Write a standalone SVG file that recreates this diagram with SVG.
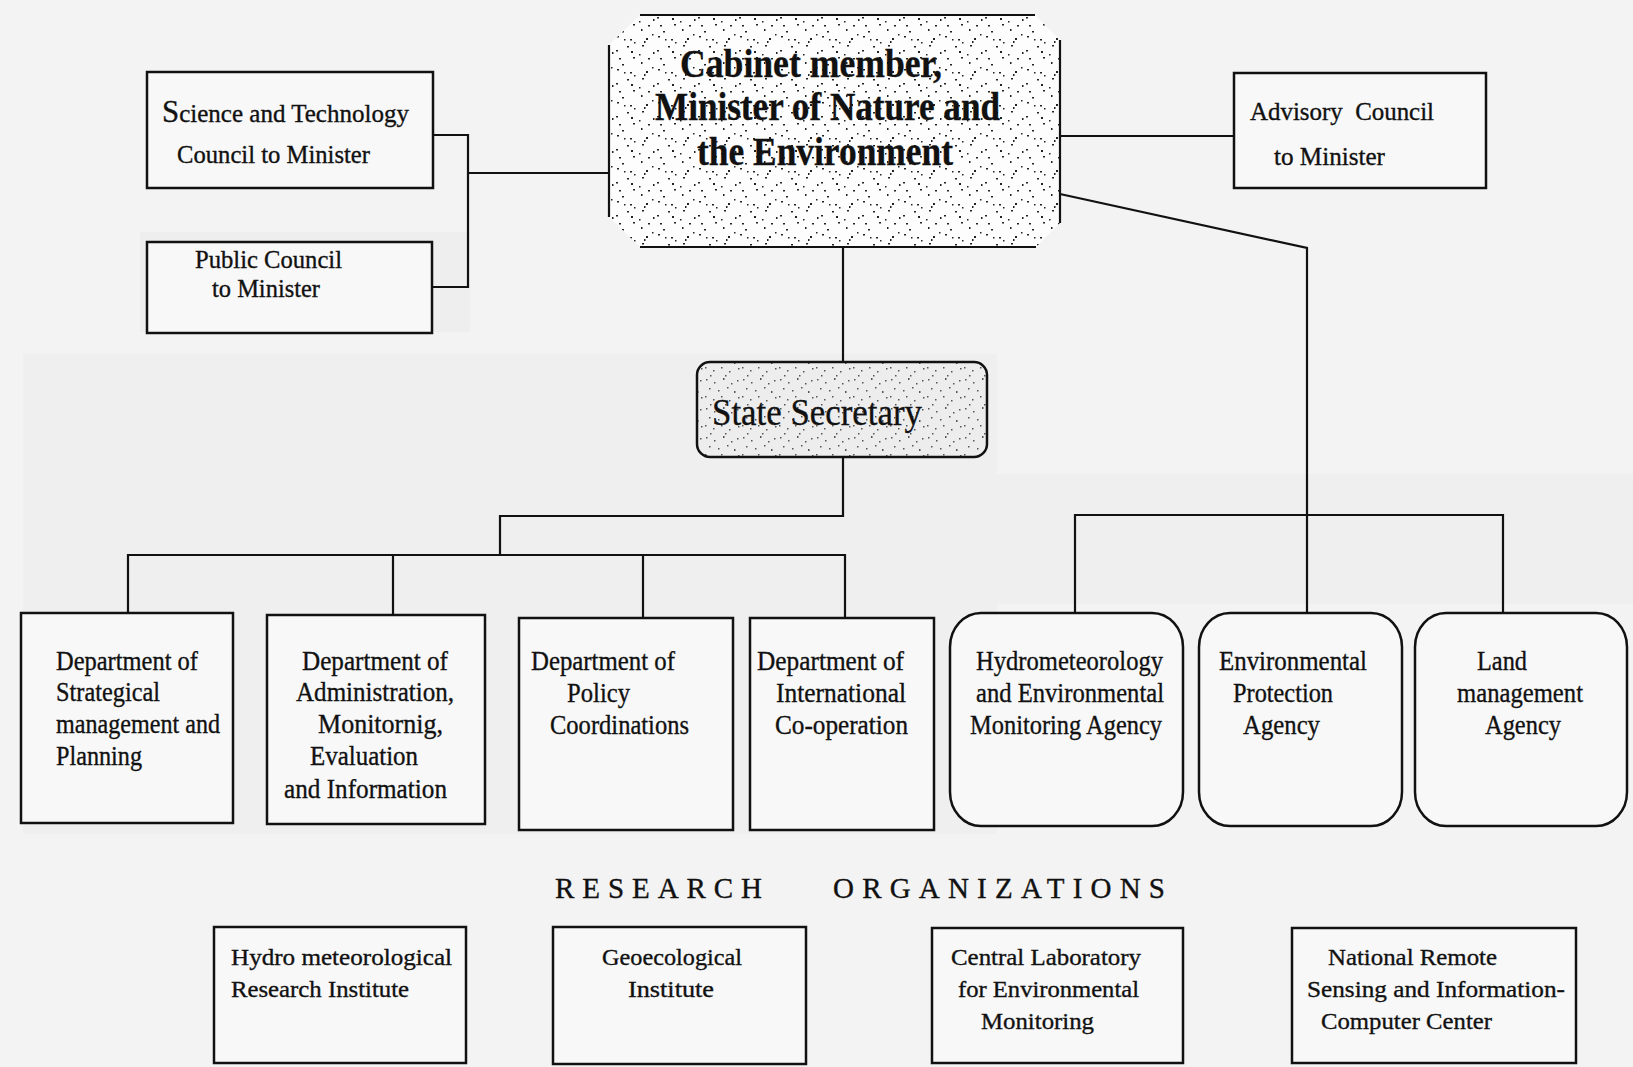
<svg xmlns="http://www.w3.org/2000/svg" width="1633" height="1067" viewBox="0 0 1633 1067">
<style>
.bx{fill:#f8f8f8;stroke:#111;stroke-width:2.5}
.ln{fill:none;stroke:#111;stroke-width:2.2}
.t{font-family:"Liberation Serif","Times New Roman",serif;fill:#111;stroke:#111;stroke-width:0.35}
.d{font-size:28px}
.s{font-size:24px}
.c{font-size:26px}
.big{font-size:40px;font-weight:bold}
.hd{font-size:29px}
</style>
<defs>
<pattern id="stip" width="41" height="33" patternUnits="userSpaceOnUse">
<rect width="41" height="33" fill="#fdfdfd"/>
<g fill="#222">
<rect x="2" y="3" width="2" height="1.5"/><rect x="15" y="6" width="2" height="1.5"/>
<rect x="31" y="5" width="2" height="2"/><rect x="37" y="1" width="1.5" height="1.5"/>
<rect x="12" y="13" width="2" height="1.5"/><rect x="19" y="9" width="1.5" height="1.5"/>
<rect x="27" y="12" width="2" height="1.5"/><rect x="1" y="17" width="2" height="1.5"/>
<rect x="16" y="18" width="2" height="2"/><rect x="24" y="21" width="1.5" height="1.5"/>
<rect x="38" y="19" width="1.5" height="2"/><rect x="4" y="25" width="2" height="1.5"/>
<rect x="18" y="24" width="2" height="1.5"/><rect x="26" y="29" width="1.5" height="2"/>
<rect x="33" y="25" width="2" height="1.5"/><rect x="7" y="31" width="2" height="1.5"/>
<rect x="29" y="8" width="1.5" height="2"/><rect x="9" y="6" width="1.5" height="1.5"/>
</g>
</pattern>
<pattern id="stip2" width="37" height="29" patternUnits="userSpaceOnUse">
<rect width="37" height="29" fill="#ededed"/>
<g fill="#555">
<rect x="3" y="2" width="1.5" height="1.5"/><rect x="11" y="5" width="1.5" height="1.5"/><rect x="20" y="1" width="1.5" height="2"/>
<rect x="28" y="6" width="1.5" height="1.5"/><rect x="34" y="3" width="1.5" height="1.5"/><rect x="6" y="11" width="1.5" height="1.5"/>
<rect x="15" y="13" width="1.5" height="1.5"/><rect x="24" y="10" width="1.5" height="1.5"/><rect x="31" y="14" width="1.5" height="2"/>
<rect x="2" y="19" width="1.5" height="1.5"/><rect x="10" y="22" width="1.5" height="1.5"/><rect x="18" y="19" width="1.5" height="1.5"/>
<rect x="26" y="23" width="1.5" height="1.5"/><rect x="35" y="20" width="1.5" height="1.5"/><rect x="7" y="27" width="1.5" height="1.5"/>
<rect x="22" y="27" width="1.5" height="1.5"/>
</g>
</pattern>
</defs>
<rect width="1633" height="1067" fill="#f3f3f3"/>
<rect x="23" y="354" width="974" height="480" fill="#efefef"/>
<rect x="997" y="474" width="636" height="130" fill="#efefef"/>
<rect x="140" y="232" width="330" height="100" fill="#eeeeee"/>

<g id="connectors">
<path class="ln" d="M433,135 H468 V287 H432"/>
<path class="ln" d="M468,173 H609"/>
<path class="ln" d="M1060,136 H1234"/>
<path class="ln" d="M1060,194 L1307,248 V613"/>
<path class="ln" d="M1075,613 V515 H1503 V613"/>
<path class="ln" d="M843,247 V362"/>
<path class="ln" d="M843,457 V516 H500 V555"/>
<path class="ln" d="M128,613 V555 H845 V618"/>
<path class="ln" d="M393,555 V615"/>
<path class="ln" d="M643,555 V618"/>
</g>

<g id="cabinet">
<path d="M640,15 H1035 L1060,40 V223 L1036,247 H640 L609,217 V45 Z" fill="url(#stip)"/>
<path class="ln" d="M640,15 H1035 M640,247 H1036 M609,45 V217 M1060,40 V223" stroke-width="3"/>
<text class="t big" x="680" y="77" textLength="262" lengthAdjust="spacingAndGlyphs">Cabinet member,</text>
<text class="t big" x="655" y="120" textLength="345" lengthAdjust="spacingAndGlyphs">Minister of Nature and</text>
<text class="t big" x="697" y="165" textLength="256" lengthAdjust="spacingAndGlyphs">the Environment</text>
</g>

<g id="science-council">
<rect class="bx" x="147" y="72" width="286" height="116" fill="#f9f9f9"/>
<text class="t c" x="162" y="122" textLength="247" lengthAdjust="spacingAndGlyphs"><tspan font-size="32">S</tspan>cience and Technology</text>
<text class="t c" x="177" y="163" textLength="193" lengthAdjust="spacingAndGlyphs">Council to Minister</text>
</g>

<g id="public-council">
<rect class="bx" x="147" y="242" width="285" height="91"/>
<text class="t c" x="195" y="268" textLength="147" lengthAdjust="spacingAndGlyphs">Public Council</text>
<text class="t c" x="212" y="297" textLength="108" lengthAdjust="spacingAndGlyphs">to Minister</text>
</g>

<g id="advisory-council">
<rect class="bx" x="1234" y="73" width="252" height="115"/>
<text class="t c" x="1250" y="120" textLength="184" lengthAdjust="spacingAndGlyphs" xml:space="preserve">Advisory  Council</text>
<text class="t c" x="1274" y="165" textLength="111" lengthAdjust="spacingAndGlyphs">to Minister</text>
</g>

<g id="state-secretary">
<rect x="697" y="362" width="290" height="95" rx="13" fill="url(#stip2)" stroke="#111" stroke-width="2.5"/>
<text class="t" font-size="38" x="712" y="425" textLength="210" lengthAdjust="spacingAndGlyphs">State Secretary</text>
</g>

<g id="dept-strategic">
<rect class="bx" x="21" y="613" width="212" height="210"/>
<text class="t d" x="56" y="670" textLength="142" lengthAdjust="spacingAndGlyphs">Department of</text>
<text class="t d" x="56" y="701" textLength="104" lengthAdjust="spacingAndGlyphs">Strategical</text>
<text class="t d" x="56" y="733" textLength="164" lengthAdjust="spacingAndGlyphs">management and</text>
<text class="t d" x="56" y="765" textLength="86" lengthAdjust="spacingAndGlyphs">Planning</text>
</g>

<g id="dept-administration">
<rect class="bx" x="267" y="615" width="218" height="209"/>
<text class="t d" x="302" y="670" textLength="146" lengthAdjust="spacingAndGlyphs">Department of</text>
<text class="t d" x="296" y="701" textLength="158" lengthAdjust="spacingAndGlyphs">Administration,</text>
<text class="t d" x="318" y="733" textLength="125" lengthAdjust="spacingAndGlyphs">Monitornig,</text>
<text class="t d" x="310" y="765" textLength="108" lengthAdjust="spacingAndGlyphs">Evaluation</text>
<text class="t d" x="284" y="798" textLength="163" lengthAdjust="spacingAndGlyphs">and Information</text>
</g>

<g id="dept-policy">
<rect class="bx" x="519" y="618" width="214" height="212"/>
<text class="t d" x="531" y="670" textLength="144" lengthAdjust="spacingAndGlyphs">Department of</text>
<text class="t d" x="567" y="702" textLength="63" lengthAdjust="spacingAndGlyphs">Policy</text>
<text class="t d" x="550" y="734" textLength="139" lengthAdjust="spacingAndGlyphs">Coordinations</text>
</g>

<g id="dept-international">
<rect class="bx" x="750" y="618" width="184" height="212"/>
<text class="t d" x="757" y="670" textLength="147" lengthAdjust="spacingAndGlyphs">Department of</text>
<text class="t d" x="776" y="702" textLength="130" lengthAdjust="spacingAndGlyphs">International</text>
<text class="t d" x="775" y="734" textLength="133" lengthAdjust="spacingAndGlyphs">Co-operation</text>
</g>

<g id="agency-hydromet">
<rect class="bx" x="950" y="613" width="233" height="213" rx="31" ry="34"/>
<text class="t d" x="976" y="670" textLength="187" lengthAdjust="spacingAndGlyphs">Hydrometeorology</text>
<text class="t d" x="976" y="702" textLength="188" lengthAdjust="spacingAndGlyphs">and Environmental</text>
<text class="t d" x="970" y="734" textLength="192" lengthAdjust="spacingAndGlyphs">Monitoring Agency</text>
</g>

<g id="agency-envprotection">
<rect class="bx" x="1199" y="613" width="203" height="213" rx="31" ry="34"/>
<text class="t d" x="1219" y="670" textLength="148" lengthAdjust="spacingAndGlyphs">Environmental</text>
<text class="t d" x="1233" y="702" textLength="100" lengthAdjust="spacingAndGlyphs">Protection</text>
<text class="t d" x="1243" y="734" textLength="77" lengthAdjust="spacingAndGlyphs">Agency</text>
</g>

<g id="agency-land">
<rect class="bx" x="1415" y="613" width="212" height="213" rx="31" ry="34"/>
<text class="t d" x="1477" y="670" textLength="50" lengthAdjust="spacingAndGlyphs">Land</text>
<text class="t d" x="1457" y="702" textLength="126" lengthAdjust="spacingAndGlyphs">management</text>
<text class="t d" x="1485" y="734" textLength="76" lengthAdjust="spacingAndGlyphs">Agency</text>
</g>

<g id="research-heading">
<text class="t hd" x="555" y="898" textLength="207" lengthAdjust="spacing">RESEARCH</text>
<text class="t hd" x="833" y="898" textLength="332" lengthAdjust="spacing">ORGANIZATIONS</text>
</g>

<g id="research-hydromet">
<rect class="bx" x="214" y="927" width="252" height="136" fill="#efefef"/>
<text class="t s" x="231" y="965" textLength="221" lengthAdjust="spacingAndGlyphs">Hydro meteorological</text>
<text class="t s" x="231" y="997" textLength="178" lengthAdjust="spacingAndGlyphs">Research Institute</text>
</g>

<g id="research-geoecological">
<rect class="bx" x="553" y="927" width="253" height="137" fill="#efefef"/>
<text class="t s" x="602" y="965" textLength="140" lengthAdjust="spacingAndGlyphs">Geoecological</text>
<text class="t s" x="628" y="997" textLength="86" lengthAdjust="spacingAndGlyphs">Institute</text>
</g>

<g id="research-centrallab">
<rect class="bx" x="932" y="928" width="251" height="135" fill="#efefef"/>
<text class="t s" x="951" y="965" textLength="190" lengthAdjust="spacingAndGlyphs">Central Laboratory</text>
<text class="t s" x="958" y="997" textLength="181" lengthAdjust="spacingAndGlyphs">for Environmental</text>
<text class="t s" x="981" y="1029" textLength="113" lengthAdjust="spacingAndGlyphs">Monitoring</text>
</g>

<g id="research-remotesensing">
<rect class="bx" x="1292" y="928" width="284" height="135" fill="#efefef"/>
<text class="t s" x="1328" y="965" textLength="169" lengthAdjust="spacingAndGlyphs">National Remote</text>
<text class="t s" x="1307" y="997" textLength="258" lengthAdjust="spacingAndGlyphs">Sensing and Information-</text>
<text class="t s" x="1321" y="1029" textLength="171" lengthAdjust="spacingAndGlyphs">Computer Center</text>
</g>
</svg>
